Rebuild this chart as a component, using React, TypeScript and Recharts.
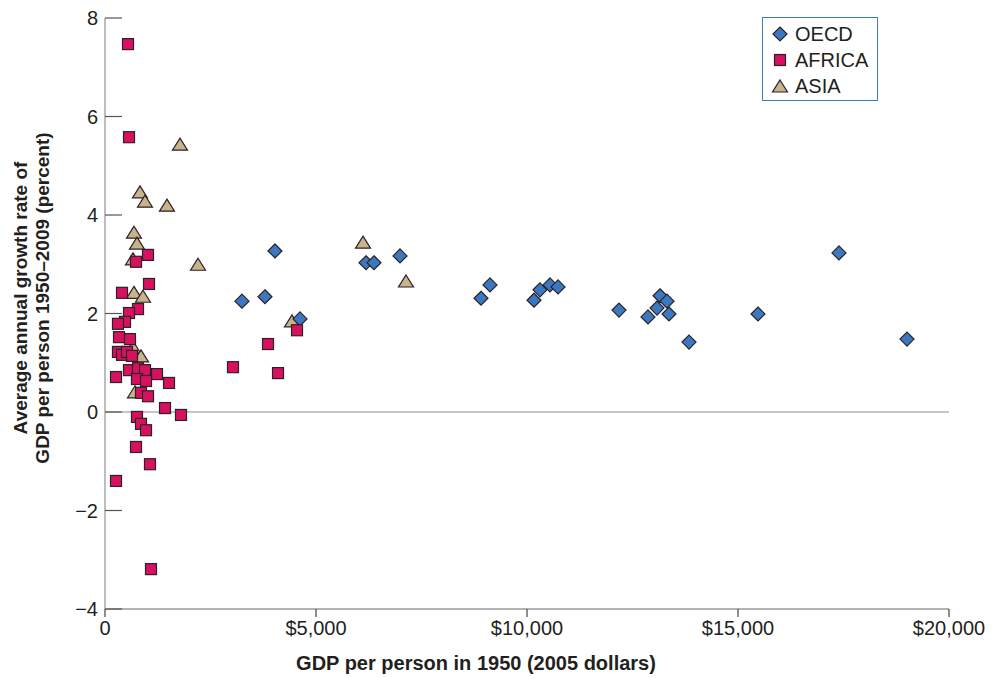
import React from 'react';
import { ScatterChart, Scatter, XAxis, YAxis, ReferenceLine, Label } from 'recharts';

// GDP per person in 1950 (2005 dollars) vs. avg annual growth 1950–2009 (percent)

const oecdGdp = [
  3246, 3791, 4028, 4621, 6185, 6374, 6991, 8910, 9123, 10166, 10308, 10545,
  10735, 12180, 12867, 13081, 13152, 13318, 13365, 13839, 15474, 17393, 19005,
];
const oecdGrowth = [
  2.25, 2.34, 3.27, 1.89, 3.03, 3.03, 3.17, 2.31, 2.58, 2.27, 2.48, 2.58,
  2.54, 2.07, 1.93, 2.11, 2.36, 2.25, 1.99, 1.42, 1.99, 3.23, 1.48,
];

const africaGdp = [
  545, 569, 1019, 735, 1043, 403, 782, 569, 474, 308, 332, 592, 308, 403, 521,
  640, 569, 782, 948, 1232, 261, 758, 972, 1517, 853, 1019, 1422, 1801, 758,
  853, 972, 735, 1066, 261, 1090, 3033, 3863, 4100, 4550,
];
const africaGrowth = [
  7.47, 5.58, 3.19, 3.05, 2.6, 2.42, 2.09, 2.01, 1.83, 1.79, 1.52, 1.48, 1.22,
  1.16, 1.22, 1.14, 0.85, 0.89, 0.85, 0.77, 0.71, 0.67, 0.63, 0.59, 0.39, 0.32,
  0.08, -0.06, -0.1, -0.24, -0.37, -0.71, -1.06, -1.4, -3.19, 0.91, 1.38, 0.79,
  1.66,
];

const asiaGdp = [
  1777, 829, 948, 1469, 687, 758, 663, 2204, 687, 900, 663, 853, 711, 6114,
  7133, 4431,
];
const asiaGrowth = [
  5.42, 4.45, 4.26, 4.18, 3.63, 3.41, 3.09, 2.98, 2.41, 2.33, 1.3, 1.12, 0.39,
  3.43, 2.64, 1.83,
];

const xTicks = [0, 5000, 10000, 15000, 20000];
const yTicks = [-4, -2, 0, 2, 4, 6, 8];

const toPoints = (xs: number[], ys: number[]) =>
  xs.map((x, i) => ({ gdp: x, growth: ys[i] }));

const OECD_FILL = '#3b78c0';
const AFRICA_FILL = '#d8105f';
const ASIA_FILL = '#c9b38a';
const MARK_STROKE = '#2a2226';
const FONT = '"Liberation Sans", Arial, sans-serif';
const TEXT = '#231f20';

const Diamond = (p: any) => {
  const { cx, cy } = p;
  const r = 7;
  return (
    <polygon
      points={`${cx},${cy - r} ${cx + r},${cy} ${cx},${cy + r} ${cx - r},${cy}`}
      fill={OECD_FILL}
      stroke={MARK_STROKE}
      strokeWidth={1.2}
    />
  );
};

const Square = (p: any) => {
  const { cx, cy } = p;
  return (
    <rect
      x={cx - 5.5}
      y={cy - 5.5}
      width={11}
      height={11}
      fill={AFRICA_FILL}
      stroke={MARK_STROKE}
      strokeWidth={1.2}
    />
  );
};

const Triangle = (p: any) => {
  const { cx, cy } = p;
  return (
    <polygon
      points={`${cx},${cy - 7} ${cx + 7.5},${cy + 5} ${cx - 7.5},${cy + 5}`}
      fill={ASIA_FILL}
      stroke={MARK_STROKE}
      strokeWidth={1.2}
    />
  );
};

const fmtY = (v: number) => (v < 0 ? `\u2212${Math.abs(v)}` : `${v}`);
const fmtX = (v: number) => (v === 0 ? '0' : `$${v.toLocaleString('en-US')}`);

// y ticks point into the plot, labels stay outside
const YTick = (props: any) => {
  const { x, y, payload } = props;
  return (
    <g>
      <line x1={x + 7} x2={x + 24} y1={y} y2={y} stroke="#555" strokeWidth={1.2} />
      <text
        x={x}
        y={y}
        dy={7}
        textAnchor="end"
        fontSize={20}
        fontFamily={FONT}
        fill={TEXT}
      >
        {fmtY(payload.value)}
      </text>
    </g>
  );
};

const LegendBox = () => {
  const row = (icon: React.ReactNode, label: string) => (
    <div style={{ display: 'flex', alignItems: 'center', height: 26 }}>
      <svg width={18} height={18} style={{ marginRight: 6 }}>
        {icon}
      </svg>
      <span>{label}</span>
    </div>
  );
  return (
    <div
      style={{
        position: 'absolute',
        left: 762,
        top: 17,
        boxSizing: 'border-box',
        width: 116,
        height: 84,
        border: '1.5px solid #3a7dc0',
        background: '#fff',
        padding: '3px 8px 0 8px',
        fontFamily: FONT,
        fontSize: 20,
        color: TEXT,
        lineHeight: 1,
      }}
    >
      {row(<Diamond cx={9} cy={9} />, 'OECD')}
      {row(<Square cx={9} cy={9} />, 'AFRICA')}
      {row(<Triangle cx={9} cy={10} />, 'ASIA')}
    </div>
  );
};

export default function App() {
  return (
    <div
      style={{
        position: 'absolute',
        left: 0,
        top: 0,
        width: 1000,
        height: 678,
        fontFamily: FONT,
        background: '#fff',
      }}
    >
      <ScatterChart
        width={1000}
        height={678}
        margin={{ top: 18, right: 51, bottom: 9, left: 45 }}
      >
        <XAxis
          type="number"
          dataKey="gdp"
          domain={[0, 20000]}
          ticks={xTicks}
          tickFormatter={fmtX}
          axisLine={{ stroke: '#9a9a9a', strokeWidth: 1.5 }}
          tickLine={{ stroke: '#444', strokeWidth: 1.2 }}
          tickSize={8}
          tickMargin={4}
          tick={{ fontSize: 20, fill: TEXT, fontFamily: FONT }}
          height={60}
          allowDataOverflow
        >
          <Label
            content={() => (
              <text
                x={476}
                y={663}
                textAnchor="middle"
                dominantBaseline="central"
                fontSize={20}
                fontWeight="bold"
                fontFamily={FONT}
                fill={TEXT}
              >
                GDP per person in 1950 (2005 dollars)
              </text>
            )}
          />
        </XAxis>
        <YAxis
          type="number"
          dataKey="growth"
          domain={[-4, 8]}
          ticks={yTicks}
          width={60}
          axisLine={{ stroke: '#a8a8a8', strokeWidth: 1.5 }}
          tickLine={false}
          tickSize={0}
          tickMargin={7}
          tick={<YTick />}
          allowDataOverflow
        >
          <Label
            content={() => (
              <g
                fontSize={19}
                fontWeight="bold"
                fontFamily={FONT}
                fill={TEXT}
                textAnchor="middle"
              >
                <text
                  x={20}
                  y={298}
                  dominantBaseline="central"
                  transform="rotate(-90 20 298)"
                >
                  Average annual growth rate of
                </text>
                <text
                  x={42}
                  y={298}
                  dominantBaseline="central"
                  transform="rotate(-90 42 298)"
                >
                  GDP per person 1950–2009 (percent)
                </text>
              </g>
            )}
          />
        </YAxis>
        <ReferenceLine y={0} stroke="#b3b3b3" strokeWidth={1.5} />
        <Scatter
          name="ASIA"
          data={toPoints(asiaGdp, asiaGrowth)}
          shape={Triangle}
          isAnimationActive={false}
        />
        <Scatter
          name="OECD"
          data={toPoints(oecdGdp, oecdGrowth)}
          shape={Diamond}
          isAnimationActive={false}
        />
        <Scatter
          name="AFRICA"
          data={toPoints(africaGdp, africaGrowth)}
          shape={Square}
          isAnimationActive={false}
        />
      </ScatterChart>
      <LegendBox />
    </div>
  );
}
